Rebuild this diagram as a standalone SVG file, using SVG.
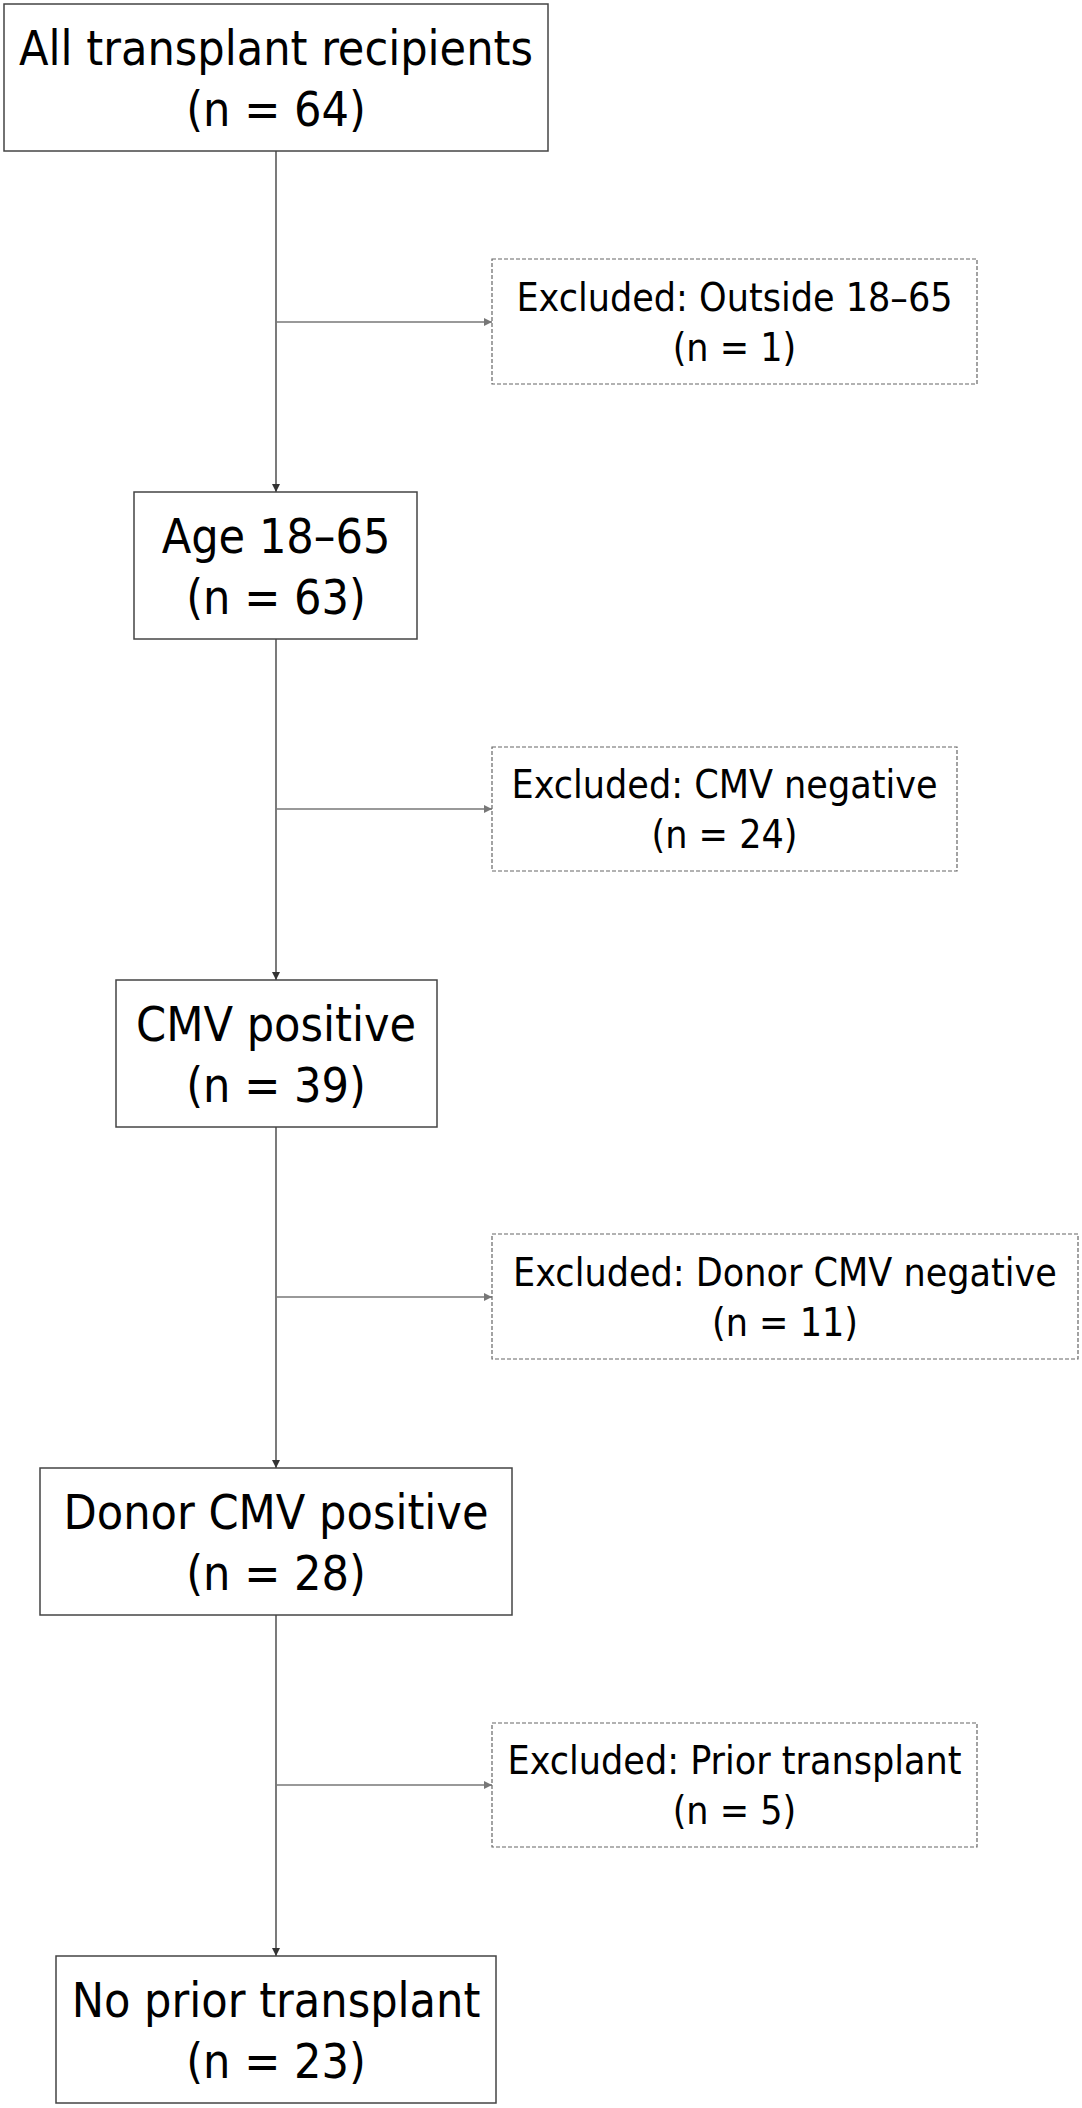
<svg xmlns="http://www.w3.org/2000/svg" width="1082" height="2108" viewBox="0 0 1082 2108">
<style>
.main rect{fill:#fff;stroke:#444;stroke-width:1.5}
.excl rect{fill:#fff;stroke:#666;stroke-width:1.2;stroke-dasharray:4 2}
.main text{font-family:"DejaVu Sans Condensed","DejaVu Sans",sans-serif;font-size:48px;fill:#000;text-anchor:middle}
.excl text{font-family:"DejaVu Sans Condensed","DejaVu Sans",sans-serif;font-size:39px;fill:#000;text-anchor:middle}
.v{stroke:#333;stroke-width:1.3;fill:none}
.h{stroke:#777;stroke-width:1.3;fill:none}
</style>
<defs>
<marker id="av" viewBox="0 0 10 10" refX="10" refY="5" markerWidth="10" markerHeight="8" markerUnits="userSpaceOnUse" orient="auto"><path d="M0,0 L10,5 L0,10 z" fill="#333"/></marker>
<marker id="ah" viewBox="0 0 10 10" refX="10" refY="5" markerWidth="10" markerHeight="8" markerUnits="userSpaceOnUse" orient="auto"><path d="M0,0 L10,5 L0,10 z" fill="#777"/></marker>
</defs>
<rect width="1082" height="2108" fill="#fff"/>
<g id="connectors">
<path class="v" d="M276,151 V492" marker-end="url(#av)"/>
<path class="v" d="M276,639 V980" marker-end="url(#av)"/>
<path class="v" d="M276,1127 V1468" marker-end="url(#av)"/>
<path class="v" d="M276,1615 V1956" marker-end="url(#av)"/>
<path class="h" d="M276,322 H492" marker-end="url(#ah)"/>
<path class="h" d="M276,809 H492" marker-end="url(#ah)"/>
<path class="h" d="M276,1297 H492" marker-end="url(#ah)"/>
<path class="h" d="M276,1785 H492" marker-end="url(#ah)"/>
</g>
<g id="n1" class="main"><rect x="4" y="4" width="544" height="147"/><text x="276" y="65">All transplant recipients</text><text x="276" y="126">(n = 64)</text></g>
<g id="n2" class="main"><rect x="134" y="492" width="283" height="147"/><text x="276" y="553">Age 18–65</text><text x="276" y="614">(n = 63)</text></g>
<g id="n3" class="main"><rect x="116" y="980" width="321" height="147"/><text x="276" y="1041">CMV positive</text><text x="276" y="1102">(n = 39)</text></g>
<g id="n4" class="main"><rect x="40" y="1468" width="472" height="147"/><text x="276" y="1529">Donor CMV positive</text><text x="276" y="1590">(n = 28)</text></g>
<g id="n5" class="main"><rect x="56" y="1956" width="440" height="147"/><text x="276" y="2017">No prior transplant</text><text x="276" y="2078">(n = 23)</text></g>
<g id="e1" class="excl"><rect x="492" y="259" width="485" height="125"/><text x="734.5" y="311">Excluded: Outside 18–65</text><text x="734.5" y="361">(n = 1)</text></g>
<g id="e2" class="excl"><rect x="492" y="747" width="465" height="124"/><text x="724.5" y="798">Excluded: CMV negative</text><text x="724.5" y="848">(n = 24)</text></g>
<g id="e3" class="excl"><rect x="492" y="1234" width="586" height="125"/><text x="785" y="1286">Excluded: Donor CMV negative</text><text x="785" y="1336">(n = 11)</text></g>
<g id="e4" class="excl"><rect x="492" y="1723" width="485" height="124"/><text x="734.5" y="1774">Excluded: Prior transplant</text><text x="734.5" y="1824">(n = 5)</text></g>
</svg>
